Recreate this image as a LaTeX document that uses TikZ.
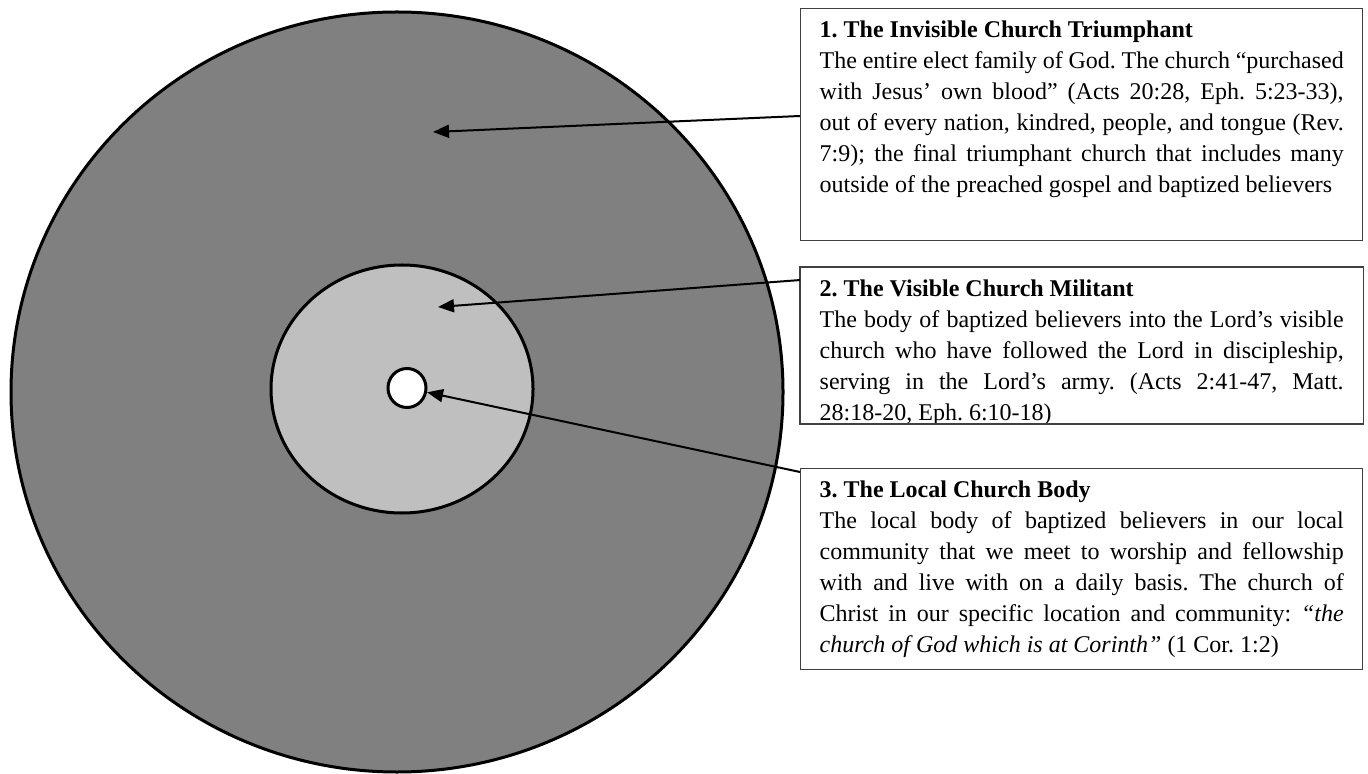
\documentclass[tikz,border=0pt]{standalone}
\usepackage{fontspec}
\setmainfont{Liberation Serif}
\frenchspacing
\usetikzlibrary{positioning,arrows.meta,shapes.geometric}
\definecolor{outerg}{RGB}{128,128,128}
\definecolor{innerg}{RGB}{191,191,191}
\definecolor{frame}{RGB}{64,64,64}
\tikzset{
  ring/.style={ellipse, draw=black, line width=1.5pt, inner sep=0pt},
  frameline/.style={draw=frame, line width=0.7pt},
  infob/.style={frameline, fill=white, align=justify, text width=262pt,
    inner xsep=9.5pt, inner ysep=6pt, font=\fontsize{12}{15.5}\selectfont},
  arr/.style={-{Triangle[length=8pt,width=6.5pt]}, line width=1pt},
}

\begin{document}
\begin{tikzpicture}[x=0.5pt, y=-0.5pt, node distance=13pt]
  \useasboundingbox (0,0) rectangle (1368,774);
  \node[ring, fill=outerg, minimum width=386pt, minimum height=380pt] (outer) at (397,392) {};
  \node[ring, fill=innerg, minimum width=131pt, minimum height=124pt] (mid) at (402,389) {};
  \node[ring, fill=white, minimum width=19pt, minimum height=19.5pt] (core) at (407,388) {};
  \coordinate (p1) at (433,132);
  \coordinate (p2) at (438,307);
  \coordinate (cut) at (800,424);
  \node[infob, anchor=north west] (tri) at (800,8) {\textbf{1. The Invisible Church Triumphant}\\
    The entire elect family of God. The church “purchased\linebreak
    with Jesus’ own blood” (Acts 20:28, Eph. 5:23-33),\linebreak
    out of every nation, kindred, people, and tongue (Rev.\linebreak
    7:9); the final triumphant church that includes many\linebreak
    outside of the preached gospel and baptized believers\rule[-18pt]{0pt}{0pt}};
  % the last line of box 2 is cut off by its frame
  \begin{scope}
    \clip (800,0) rectangle (cut -| tri.east);
    \node[infob, draw=none, below=of tri] (vis) {\textbf{2. The Visible Church Militant}\\
      The body of baptized believers into the Lord’s visible\linebreak
      church who have followed the Lord in discipleship,\linebreak
      serving in the Lord’s army. (Acts 2:41-47, Matt.\linebreak
      28:18-20, Eph. 6:10-18)};
  \end{scope}
  \draw[frameline] (vis.north west) rectangle (cut -| vis.east);
  \node[infob, anchor=north west] (loc) at (800,468) {\textbf{3. The Local Church Body}\\
    The local body of baptized believers in our local\linebreak
    community that we meet to worship and fellowship\linebreak
    with and live with on a daily basis. The church of\linebreak
    Christ in our specific location and community: \textit{“the\linebreak
    church of God which is at Corinth”} (1 Cor. 1:2)};
  \draw[arr] ([yshift=-54pt]tri.north west) -- (p1);
  \draw[arr] ([yshift=-6.5pt]vis.north west) -- (p2);
  \draw[arr] ([yshift=-2pt]loc.north west) -- (core);
\end{tikzpicture}
\end{document}
